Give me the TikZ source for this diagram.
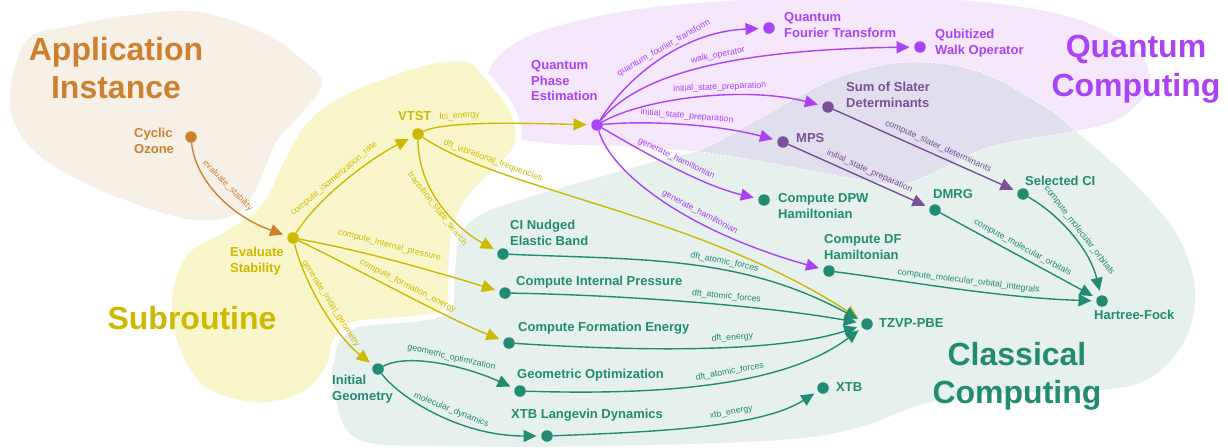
\documentclass[tikz,border=0pt]{standalone}
\usepackage{fontspec}
\setmainfont{Liberation Sans}
\usetikzlibrary{arrows.meta}
\definecolor{cOr}{RGB}{204,128,48}
\definecolor{cYe}{RGB}{205,185,0}
\definecolor{cPu}{RGB}{170,66,245}
\definecolor{cDp}{RGB}{122,80,152}
\definecolor{cTe}{RGB}{34,139,114}
\definecolor{bgOr}{RGB}{247,240,230}
\definecolor{bgYe}{RGB}{250,246,204}
\definecolor{bgPu}{RGB}{245,232,253}
\definecolor{bgTe}{RGB}{230,241,238}
\definecolor{bgOv}{RGB}{225,222,237}
\begin{document}
\begin{tikzpicture}[x=1pt,y=-1pt,
  dot/.style={circle,fill=#1,inner sep=0pt,minimum size=11.5pt},
  ntext/.style={font=\bfseries\fontsize{13}{15.8}\selectfont,text=#1,align=left,inner sep=0pt,anchor=north west},
  big/.style={font=\bfseries\fontsize{32}{38.5}\selectfont,text=#1,align=center,inner sep=0pt,anchor=north},
  conn/.style={draw=#1,line width=1.4pt,-{Triangle[length=13pt,width=12pt]},shorten >=4.5pt},
  elab/.style={font=\fontsize{8.75}{10}\selectfont,text=#1,sloped,above=3pt,inner sep=1pt},
  ovline/.style={draw=white,line width=0.8pt,dash pattern=on 2pt off 2pt},
  halo/.style={draw=white,fill=white,line width=12pt}
]
\useasboundingbox (0,0) rectangle (1228,447);
\fill[white] (0,0) rectangle (1228,447);

% classical blob
\fill[bgTe] plot[smooth cycle,tension=0.6] coordinates {(335,350) (362,325) (410,317) (447,308) (455,270) (460,235) (482,214) (530,197) (600,177) (660,160) (705,148) (760,118) (805,93) (850,73) (913,62) (980,72) (1047,108) (1080,135) (1115,165) (1150,200) (1180,240) (1195,290) (1185,340) (1150,378) (1100,390) (1010,393) (930,402) (860,427) (780,440) (600,446) (450,446) (360,440) (336,400)};
% quantum blob
\fill[bgPu] plot[smooth cycle,tension=0.6] coordinates {(487,82) (503,52) (545,30) (620,12) (700,3) (800,-3) (900,-3) (1000,4) (1080,20) (1135,50) (1150,85) (1120,118) (1070,132) (990,147) (935,172) (900,184) (850,178) (780,165) (700,152) (620,146) (545,143) (503,130)};
\begin{scope}
  \clip plot[smooth cycle,tension=0.6] coordinates {(487,82) (503,52) (545,30) (620,12) (700,3) (800,-3) (900,-3) (1000,4) (1080,20) (1135,50) (1150,85) (1120,118) (1070,132) (990,147) (935,172) (900,184) (850,178) (780,165) (700,152) (620,146) (545,143) (503,130)};
  \fill[bgOv] plot[smooth cycle,tension=0.6] coordinates {(335,350) (362,325) (410,317) (447,308) (455,270) (460,235) (482,214) (530,197) (600,177) (660,160) (705,148) (760,118) (805,93) (850,73) (913,62) (980,72) (1047,108) (1080,135) (1115,165) (1150,200) (1180,240) (1195,290) (1185,340) (1150,378) (1100,390) (1010,393) (930,402) (860,427) (780,440) (600,446) (450,446) (360,440) (336,400)};
  \draw[ovline] plot[smooth cycle,tension=0.6] coordinates {(335,350) (362,325) (410,317) (447,308) (455,270) (460,235) (482,214) (530,197) (600,177) (660,160) (705,148) (760,118) (805,93) (850,73) (913,62) (980,72) (1047,108) (1080,135) (1115,165) (1150,200) (1180,240) (1195,290) (1185,340) (1150,378) (1100,390) (1010,393) (930,402) (860,427) (780,440) (600,446) (450,446) (360,440) (336,400)};
\end{scope}
\begin{scope}
  \clip plot[smooth cycle,tension=0.6] coordinates {(335,350) (362,325) (410,317) (447,308) (455,270) (460,235) (482,214) (530,197) (600,177) (660,160) (705,148) (760,118) (805,93) (850,73) (913,62) (980,72) (1047,108) (1080,135) (1115,165) (1150,200) (1180,240) (1195,290) (1185,340) (1150,378) (1100,390) (1010,393) (930,402) (860,427) (780,440) (600,446) (450,446) (360,440) (336,400)};
  \draw[ovline] plot[smooth cycle,tension=0.6] coordinates {(487,82) (503,52) (545,30) (620,12) (700,3) (800,-3) (900,-3) (1000,4) (1080,20) (1135,50) (1150,85) (1120,118) (1070,132) (990,147) (935,172) (900,184) (850,178) (780,165) (700,152) (620,146) (545,143) (503,130)};
\end{scope}
% subroutine blob
\path[halo] plot[smooth cycle,tension=0.6] coordinates {(172,318) (185,258) (225,232) (262,205) (285,160) (310,120) (350,93) (420,67) (465,62) (482,75) (510,112) (514,145) (490,172) (466,198) (452,230) (448,270) (446,305) (420,315) (352,322) (333,340) (325,368) (300,393) (255,402) (200,382)};
\fill[bgYe] plot[smooth cycle,tension=0.6] coordinates {(172,318) (185,258) (225,232) (262,205) (285,160) (310,120) (350,93) (420,67) (465,62) (482,75) (510,112) (514,145) (490,172) (466,198) (452,230) (448,270) (446,305) (420,315) (352,322) (333,340) (325,368) (300,393) (255,402) (200,382)};
% application blob
\path[halo] plot[smooth cycle,tension=0.6] coordinates {(10,93) (27,40) (67,27) (133,15) (200,12) (267,35) (300,58) (322,83) (300,115) (277,140) (263,173) (247,205) (225,218) (195,220) (160,212) (100,190) (45,160) (18,130)};
\fill[bgOr] plot[smooth cycle,tension=0.6] coordinates {(10,93) (27,40) (67,27) (133,15) (200,12) (267,35) (300,58) (322,83) (300,115) (277,140) (263,173) (247,205) (225,218) (195,220) (160,212) (100,190) (45,160) (18,130)};

% group titles
\node[big=cOr] (lApp) at (116,37) {Application\\Instance};
\node[big=cYe] (lSub) at (192,306) {Subroutine};
\node[big=cPu] (lQC) at (1136,35) {Quantum\\Computing};
\node[big=cTe] (lCC) at (1017,342) {Classical\\Computing};

% nodes
\node[dot=cOr] (co) at (191,137) {};
\node[ntext=cOr] (co-t) at (134,128) {Cyclic\\Ozone};
\node[dot=cYe] (es) at (293,238) {};
\node[ntext=cYe] (es-t) at (230,247) {Evaluate\\Stability};
\node[dot=cYe] (vtst) at (418,134) {};
\node[ntext=cYe] (vtst-t) at (398,111) {VTST};
\node[dot=cPu] (qpe) at (597,125) {};
\node[ntext=cPu] (qpe-t) at (531,60) {Quantum\\Phase\\Estimation};
\node[dot=cPu] (qft) at (769,28) {};
\node[ntext=cPu] (qft-t) at (784,12) {Quantum\\Fourier Transform};
\node[dot=cPu] (qwo) at (920,47) {};
\node[ntext=cPu] (qwo-t) at (935,29) {Qubitized\\Walk Operator};
\node[dot=cDp] (slater) at (828,107) {};
\node[ntext=cDp] (slater-t) at (846,82) {Sum of Slater\\Determinants};
\node[dot=cDp] (mps) at (783,142) {};
\node[ntext=cDp] (mps-t) at (796,133) {MPS};
\node[dot=cTe] (dpw) at (764,200) {};
\node[ntext=cTe] (dpw-t) at (778,193) {Compute DPW\\Hamiltonian};
\node[dot=cTe] (dmrg) at (935,210) {};
\node[ntext=cTe] (dmrg-t) at (933,189) {DMRG};
\node[dot=cTe] (selci) at (1023,194) {};
\node[ntext=cTe] (selci-t) at (1025,176) {Selected CI};
\node[dot=cTe] (df) at (829,271) {};
\node[ntext=cTe] (df-t) at (824,234) {Compute DF\\Hamiltonian};
\node[dot=cTe] (hf) at (1102,301) {};
\node[ntext=cTe] (hf-t) at (1094,310) {Hartree-Fock};
\node[dot=cTe] (tzvp) at (867,324) {};
\node[ntext=cTe] (tzvp-t) at (879,318) {TZVP-PBE};
\node[dot=cTe] (xtb) at (823,388) {};
\node[ntext=cTe] (xtb-t) at (836,382) {XTB};
\node[dot=cTe] (neb) at (503,254) {};
\node[ntext=cTe] (neb-t) at (510,220) {CI Nudged\\Elastic Band};
\node[dot=cTe] (cip) at (505,293) {};
\node[ntext=cTe] (cip-t) at (516,276) {Compute Internal Pressure};
\node[dot=cTe] (cfe) at (509,343) {};
\node[ntext=cTe] (cfe-t) at (518,322) {Compute Formation Energy};
\node[dot=cTe] (geo) at (520,391) {};
\node[ntext=cTe] (geo-t) at (517,369) {Geometric Optimization};
\node[dot=cTe] (xtbl) at (547,436) {};
\node[ntext=cTe] (xtbl-t) at (511,409) {XTB Langevin Dynamics};
\node[dot=cTe] (ig) at (378,369) {};
\node[ntext=cTe] (ig-t) at (332,375) {Initial\\Geometry};

% edges
\draw[conn=cOr] (co) .. controls (195,178) and (228,215) .. (es) node[elab=cOr,pos=0.5,above=4pt]{evaluate\_stability};

\draw[conn=cYe] (es) .. controls (318,198) and (368,160) .. (vtst) node[elab=cYe,pos=0.45]{compute\_isomerization\_rate};
\draw[conn=cYe] (es) .. controls (360,250) and (430,270) .. (cip) node[elab=cYe,pos=0.45,above=5pt]{compute\_internal\_pressure};
\draw[conn=cYe] (es) .. controls (370,275) and (440,315) .. (cfe) node[elab=cYe,pos=0.5]{compute\_formation\_energy};
\draw[conn=cYe] (es) .. controls (305,285) and (335,335) .. (ig) node[elab=cYe,pos=0.5]{generate\_initial\_geometry};
\draw[conn=cYe] (vtst) .. controls (445,121) and (520,123) .. (qpe) node[elab=cYe,pos=0.33]{fci\_energy};
\draw[conn=cYe] (vtst) .. controls (500,190) and (700,215) .. (tzvp) node[elab=cYe,pos=0.22]{dft\_vibrational\_frequencies};
\draw[conn=cYe] (vtst) .. controls (418,190) and (455,228) .. (neb) node[elab=cYe,pos=0.5,below=3pt]{transition\_state\_search};

\draw[conn=cPu] (qpe) .. controls (625,80) and (680,32) .. (qft) node[elab=cPu,pos=0.55]{quantum\_fourier\_transform};
\draw[conn=cPu] (qpe) .. controls (630,85) and (700,50) .. (qwo) node[elab=cPu,pos=0.6]{walk\_operator};
\draw[conn=cPu] (qpe) .. controls (640,100) and (740,85) .. (slater) node[elab=cPu,pos=0.6]{initial\_state\_preparation};
\draw[conn=cPu] (qpe) .. controls (650,120) and (720,125) .. (mps) node[elab=cPu,pos=0.5]{initial\_state\_preparation};
\draw[conn=cPu] (qpe) .. controls (640,150) and (700,185) .. (dpw) node[elab=cPu,pos=0.5]{generate\_hamiltonian};
\draw[conn=cPu] (qpe) .. controls (612,175) and (690,232) .. (df) node[elab=cPu,pos=0.62]{generate\_hamiltonian};

\draw[conn=cDp] (slater) -- (selci) node[elab=cDp,pos=0.55]{compute\_slater\_determinants};
\draw[conn=cDp] (mps) -- (dmrg) node[elab=cDp,pos=0.55]{initial\_state\_preparation};

\draw[conn=cTe] (dmrg) -- (hf) node[elab=cTe,pos=0.5]{compute\_molecular\_orbitals};
\draw[conn=cTe] (selci) .. controls (1060,215) and (1090,250) .. (hf) node[elab=cTe,pos=0.5]{compute\_molecular\_orbitals};
\draw[conn=cTe] (df) .. controls (900,280) and (1000,298) .. (hf) node[elab=cTe,pos=0.55]{compute\_molecular\_orbital\_integrals};
\draw[conn=cTe] (neb) .. controls (640,260) and (740,255) .. (tzvp) node[elab=cTe,pos=0.6]{dft\_atomic\_forces};
\draw[conn=cTe] (cip) .. controls (620,295) and (760,305) .. (tzvp) node[elab=cTe,pos=0.6]{dft\_atomic\_forces};
\draw[conn=cTe] (cfe) .. controls (650,352) and (780,352) .. (tzvp) node[elab=cTe,pos=0.57]{dft\_energy};
\draw[conn=cTe] (geo) .. controls (680,396) and (790,382) .. (tzvp) node[elab=cTe,pos=0.52]{dft\_atomic\_forces};
\draw[conn=cTe] (xtbl) .. controls (650,432) and (760,428) .. (xtb) node[elab=cTe,pos=0.62]{xtb\_energy};
\draw[conn=cTe] (ig) .. controls (410,352) and (470,368) .. (geo) node[elab=cTe,pos=0.55]{geometric\_optimization};
\draw[conn=cTe] (ig) .. controls (400,398) and (460,436) .. (xtbl) node[elab=cTe,pos=0.56]{molecular\_dynamics};
\end{tikzpicture}
\end{document}
